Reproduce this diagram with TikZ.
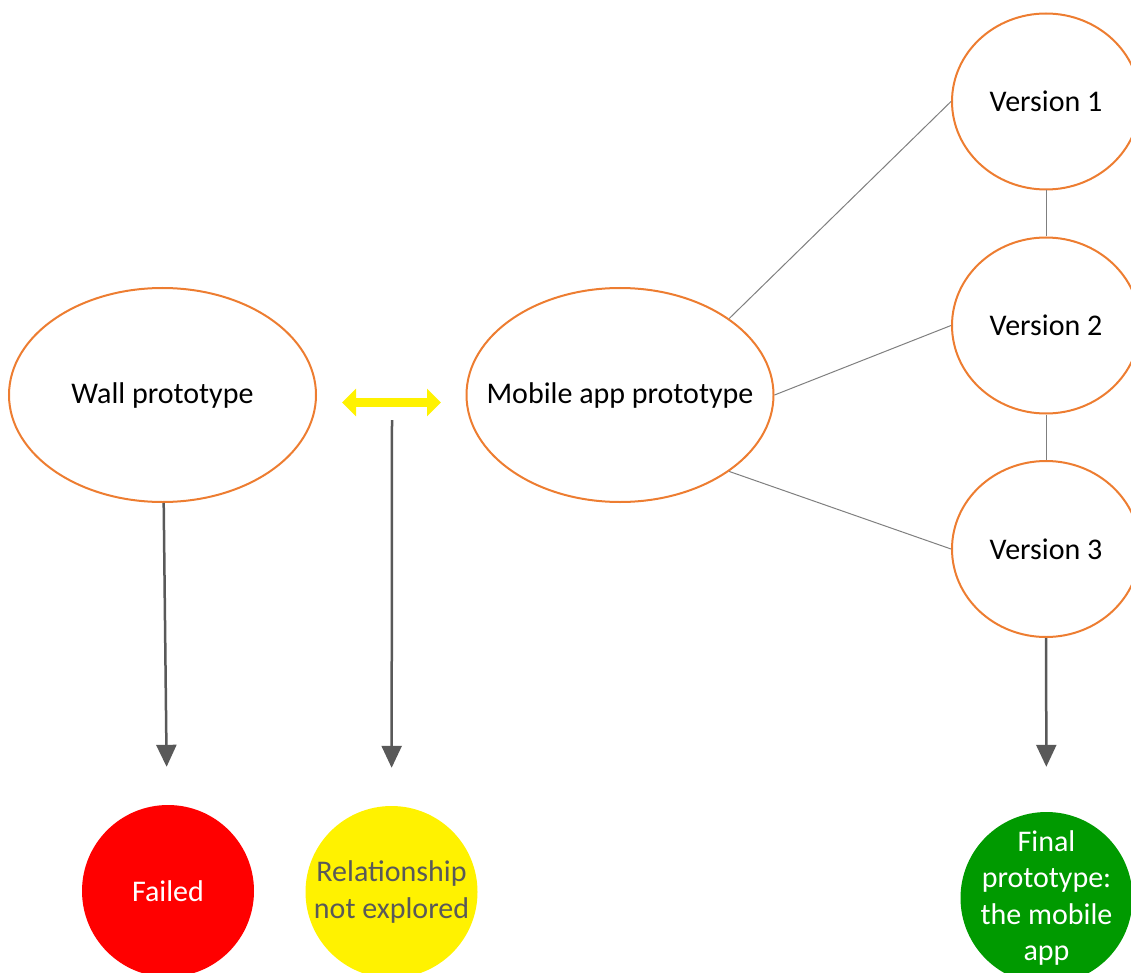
\documentclass[tikz,border=0pt]{standalone}
\usepackage{fontspec}
\setmainfont{Carlito}
\usetikzlibrary{shapes.geometric,arrows.meta}
\definecolor{shapeline}{HTML}{ED7D31}
\definecolor{arrowgray}{HTML}{595959}
\definecolor{linkgray}{HTML}{7F7F7F}
\definecolor{okgreen}{HTML}{009A00}

\tikzset{
    proto node/.style={ellipse,draw=shapeline,line width=2pt,inner xsep=-40pt,inner ysep=0,minimum width=307pt,minimum height=214pt},
    version node/.style={ellipse,draw=shapeline,line width=2pt,inner sep=0,minimum width=188pt,minimum height=176pt},
    result node/.style={circle,inner sep=-12pt,minimum size=172pt,align=center},
    link/.style={draw=linkgray,line width=1pt},
    arr/.style={draw=arrowgray,line width=2.5pt,-{Triangle[width=20pt,length=22pt]}},
    biarr/.style={draw=yellow,line width=9pt,{Triangle[width=27pt,length=14pt]}-{Triangle[width=27pt,length=14pt]}}
    }

\begin{document}
\begin{tikzpicture}[x=1pt,y=-1pt,every node/.style={font=\fontsize{30}{36.5}\selectfont}]
                \useasboundingbox (0,0) rectangle (1131,973);
                \clip (0,0) rectangle (1131,973);
                \node(wall)[proto node] at (162.5,395) {Wall prototype};
                \node(mobile)[proto node] at (620,395) {Mobile app prototype};
                \node(v1)[version node] at (1046,101.5) {Version 1};
                \node(v2)[version node] at (1046,325.5) {Version 2};
                \node(v3)[version node] at (1046,549) {Version 3};
                \node(failed)[result node, fill=red, text=white] at (168,891) {Failed};
                \node(notexplored)[result node, fill=yellow, text=arrowgray] at (391.5,892) {Relationship\\not explored};
                \node(final)[result node, fill=okgreen, text=white] at (1046.5,898) {Final\\prototype:\\the mobile\\app};
                \coordinate(relstart) at (392,420);

                \draw[link] (v1) -- (v2);
                \draw[link] (v2) -- (v3);
                \draw[link] (mobile.35) -- (v1.west);
                \draw[link] (mobile.east) -- (v2.west);
                \draw[link] (mobile.-35) -- (v3.west);

                \draw[biarr, shorten <=25pt, shorten >=24.5pt] ([yshift=-7.5pt]wall.east) -- ([yshift=-7.5pt]mobile.west);
                \draw[arr, shorten >=38pt] (wall) -- (failed);
                \draw[arr, shorten >=38pt] (relstart) -- (notexplored);
                \draw[arr, shorten >=45pt] (v3) -- (final);
            \end{tikzpicture}
\end{document}
